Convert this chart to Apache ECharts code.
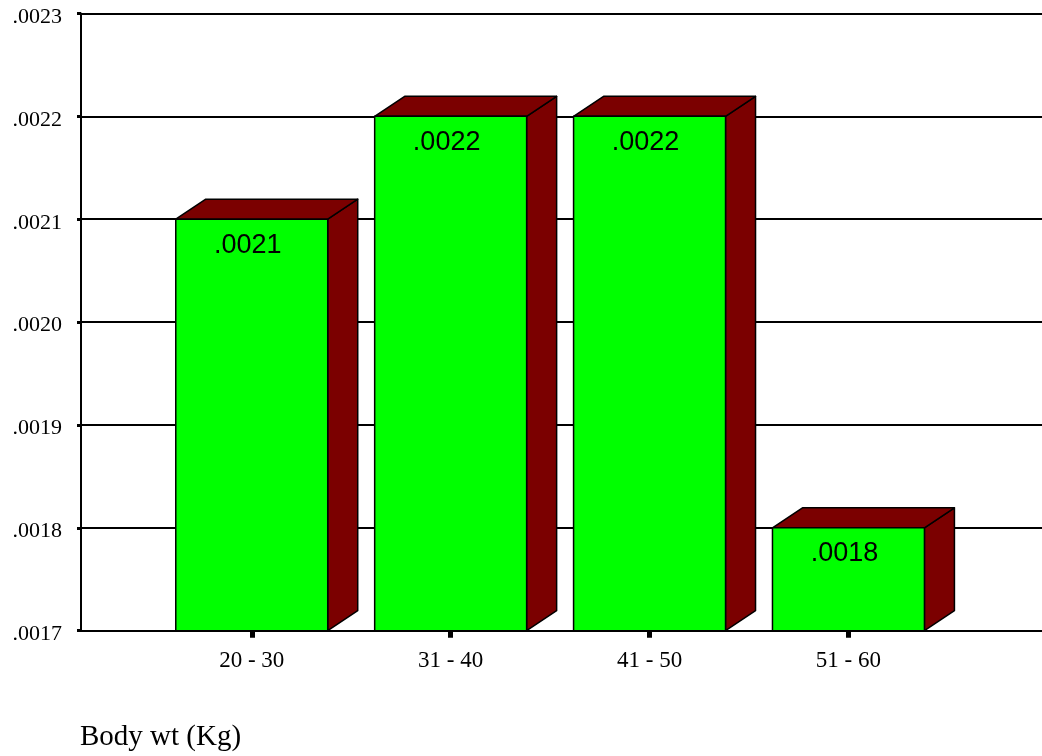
<!DOCTYPE html>
<html>
<head>
<meta charset="utf-8">
<title>Body wt (Kg)</title>
<script src="https://cdn.jsdelivr.net/npm/echarts@6/dist/echarts.min.js"></script>
<style>
  html, body { margin: 0; padding: 0; background: #ffffff; }
  #chart { width: 1042px; height: 756px; }
</style>
</head>
<body>
<div id="chart"></div>
<script>
// Weight classes and their values
const categories = ['20 - 30', '31 - 40', '41 - 50', '51 - 60'];
const values = [0.0021, 0.0022, 0.0022, 0.0018];
const axisTitle = 'Body wt (Kg)';

// Value axis range
const yMin = 0.0017;
const yMax = 0.0023;
const yStep = 0.0001;

const fmt = v => v.toFixed(4).replace(/^0/, '');

const FRONT = '#00ff00';
const SHADE = '#7b0000';
const DEPTH_X = 30;
const DEPTH_Y = 20;
const BAR_RATIO = 0.764;
const SERIF = '"Liberation Serif", "Times New Roman", serif';

const chart = echarts.init(document.getElementById('chart'), null, { renderer: 'canvas' });

function renderBox(params, api) {
  const idx = api.value(0);
  const val = api.value(1);
  const top = api.coord([idx, val]);
  const base = api.coord([idx, yMin]);
  const w = api.size([1, 0])[0] * BAR_RATIO;
  const x0 = top[0] - w / 2;
  const x1 = top[0] + w / 2;
  const yt = top[1];
  const yb = base[1];
  const edge = { stroke: '#000000', lineWidth: 1.5, lineJoin: 'round' };
  return {
    type: 'group',
    children: [
      {
        type: 'polygon',
        shape: { points: [[x1, yt], [x1 + DEPTH_X, yt - DEPTH_Y], [x1 + DEPTH_X, yb - DEPTH_Y], [x1, yb]] },
        style: Object.assign({ fill: SHADE }, edge)
      },
      {
        type: 'polygon',
        shape: { points: [[x0, yt], [x1, yt], [x1 + DEPTH_X, yt - DEPTH_Y], [x0 + DEPTH_X, yt - DEPTH_Y]] },
        style: Object.assign({ fill: SHADE }, edge)
      },
      {
        type: 'rect',
        shape: { x: x0, y: yt, width: w, height: yb - yt },
        style: Object.assign({ fill: FRONT }, edge)
      },
      {
        type: 'text',
        x: top[0] - 4,
        y: yt + 26,
        style: {
          text: fmt(val),
          fill: '#000000',
          font: '27px "Liberation Sans", Arial, sans-serif',
          align: 'center',
          verticalAlign: 'middle'
        }
      }
    ]
  };
}

chart.setOption({
  animation: false,
  backgroundColor: '#ffffff',
  grid: [
    { left: 81, top: 13.5, right: 0, height: 617.2 },
    { left: 152.3, top: 13.5, width: 795.6, height: 617.2 }
  ],
  xAxis: [
    {
      gridIndex: 0,
      type: 'value',
      min: 0,
      max: 1,
      axisLine: { show: false },
      axisTick: { show: false },
      axisLabel: { show: false },
      splitLine: { show: false }
    },
    {
      gridIndex: 1,
      type: 'category',
      data: categories,
      axisLine: { show: false },
      axisTick: {
        show: true,
        alignWithLabel: true,
        length: 7,
        lineStyle: { color: '#000000', width: 5 }
      },
      axisLabel: {
        margin: 19,
        color: '#000000',
        fontFamily: SERIF,
        fontSize: 23
      },
      splitLine: { show: false }
    }
  ],
  yAxis: [
    {
      gridIndex: 0,
      type: 'value',
      min: yMin,
      max: yMax,
      interval: yStep,
      axisLine: { show: true, lineStyle: { color: '#000000', width: 2 } },
      axisTick: { show: true, length: 4, lineStyle: { color: '#000000', width: 3 } },
      axisLabel: {
        margin: 19,
        color: '#000000',
        formatter: v => '{t|' + fmt(v) + '}',
        rich: {
          t: {
            fontFamily: SERIF,
            fontSize: 22,
            color: '#000000',
            padding: [7, 0, 0, 0]
          }
        }
      },
      splitLine: { show: true, lineStyle: { color: '#000000', width: 2 } }
    },
    {
      gridIndex: 1,
      type: 'value',
      min: yMin,
      max: yMax,
      interval: yStep,
      show: false,
      splitLine: { show: false }
    }
  ],
  series: [
    {
      type: 'custom',
      xAxisIndex: 1,
      yAxisIndex: 1,
      renderItem: renderBox,
      clip: false,
      data: values.map((v, i) => [i, v]),
      z: 5
    }
  ],
  graphic: [
    {
      type: 'text',
      left: 80,
      top: 723,
      style: {
        text: axisTitle,
        fill: '#000000',
        font: '29px ' + SERIF
      }
    }
  ]
});
</script>
</body>
</html>
